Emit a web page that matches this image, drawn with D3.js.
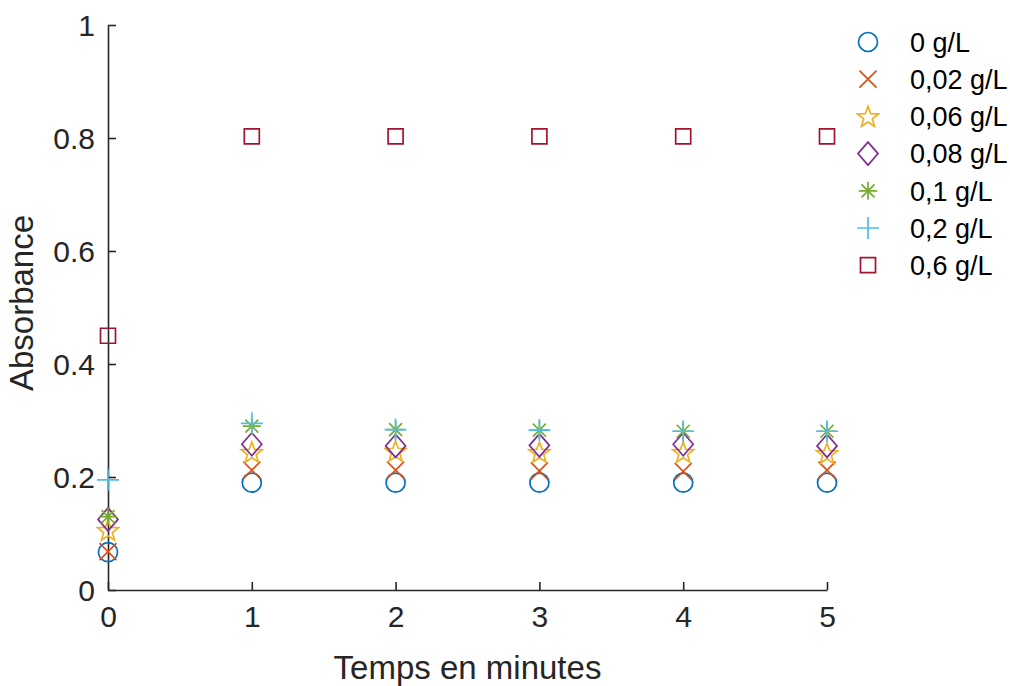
<!DOCTYPE html>
<html><head><meta charset="utf-8">
<script src="https://cdn.jsdelivr.net/npm/d3@7"></script>
<style>body{margin:0;background:#fff}svg{display:block;font-family:"Liberation Sans",Arial,sans-serif}</style>
</head><body>
<svg id="c" width="1010" height="686"></svg>
<script>
const times = [0, 1, 2, 3, 4, 5];
const seriesNames = ["0 g/L", "0,02 g/L", "0,06 g/L", "0,08 g/L", "0,1 g/L", "0,2 g/L", "0,6 g/L"];
const s0   = [0.067, 0.190, 0.190, 0.190, 0.190, 0.190];
const s002 = [0.068, 0.212, 0.212, 0.211, 0.210, 0.212];
const s006 = [0.106, 0.244, 0.246, 0.244, 0.244, 0.242];
const s008 = [0.125, 0.258, 0.255, 0.256, 0.258, 0.255];
const s01  = [0.130, 0.290, 0.284, 0.283, 0.281, 0.281];
const s02  = [0.195, 0.295, 0.284, 0.283, 0.281, 0.281];
const s06  = [0.450, 0.803, 0.803, 0.803, 0.803, 0.803];
const seriesValues = [s0, s002, s006, s008, s01, s02, s06];
const colors = ["#0072BD", "#D95319", "#EDB120", "#7E2F8E", "#77AC30", "#4DBEEE", "#A2142F"];
const markers = ["circle", "x", "star", "diamond", "asterisk", "plus", "square"];
const xTicks = [0, 1, 2, 3, 4, 5];
const yTicks = [0, 0.2, 0.4, 0.6, 0.8, 1];

const svg = d3.select("#c");
const m = {l: 108, r: 827, t: 25, b: 590};
const x = d3.scaleLinear().domain([0, 5]).range([m.l, m.r]);
const y = d3.scaleLinear().domain([0, 1]).range([m.b, m.t]);
const axc = "#262626";

function markerPath(type) {
  const p = d3.path();
  if (type === "circle") { p.moveTo(9.5, 0); p.arc(0, 0, 9.5, 0, 2 * Math.PI); }
  else if (type === "x") { const s = 8.5; p.moveTo(-s, -s); p.lineTo(s, s); p.moveTo(-s, s); p.lineTo(s, -s); }
  else if (type === "plus") { const s = 11; p.moveTo(-s, 0); p.lineTo(s, 0); p.moveTo(0, -s); p.lineTo(0, s); }
  else if (type === "asterisk") { const s = 9, d = 6.5; p.moveTo(-s, 0); p.lineTo(s, 0); p.moveTo(0, -s); p.lineTo(0, s);
    p.moveTo(-d, -d); p.lineTo(d, d); p.moveTo(-d, d); p.lineTo(d, -d); }
  else if (type === "square") { const s = 7.5; p.rect(-s, -s, 2 * s, 2 * s); }
  else if (type === "diamond") { p.moveTo(0, -11.5); p.lineTo(10, 0); p.lineTo(0, 11.5); p.lineTo(-10, 0); p.closePath(); }
  else if (type === "star") {
    const R = 11, r = 4.6;
    for (let i = 0; i < 10; i++) {
      const a = -Math.PI / 2 + i * Math.PI / 5, rr = i % 2 ? r : R;
      const px = rr * Math.cos(a), py = rr * Math.sin(a) + 1;
      if (i === 0) p.moveTo(px, py); else p.lineTo(px, py);
    }
    p.closePath();
  }
  return p.toString();
}

// axes
const xAxis = d3.axisBottom(x).tickValues(xTicks).tickFormat(d3.format("d")).tickSizeInner(-8).tickSizeOuter(0).tickPadding(16);
const yAxis = d3.axisLeft(y).tickValues(yTicks).tickFormat(d => d === 0 || d === 1 ? String(d) : d.toFixed(1)).tickSizeInner(-8).tickSizeOuter(0).tickPadding(13);
const gx = svg.append("g").attr("transform", `translate(0,${m.b})`).call(xAxis);
const gy = svg.append("g").attr("transform", `translate(${m.l},0)`).call(yAxis);
[gx, gy].forEach(g => {
  g.select(".domain").attr("stroke", axc).attr("stroke-width", 1.6);
  g.selectAll(".tick line").attr("stroke", axc).attr("stroke-width", 1.6);
  g.selectAll(".tick text").attr("fill", axc).attr("font-size", 30).attr("font-family", "Liberation Sans, Arial, sans-serif");
});
gy.selectAll(".tick text").attr("dy", "0.36em");

svg.append("text").attr("x", (m.l + m.r) / 2).attr("y", 679).attr("text-anchor", "middle")
  .attr("font-size", 33).attr("fill", axc).text("Temps en minutes");
svg.append("text").attr("transform", `translate(33,303) rotate(-90)`).attr("text-anchor", "middle")
  .attr("font-size", 33).attr("fill", axc).text("Absorbance");

// data
seriesValues.forEach((vals, i) => {
  svg.append("g").selectAll("path").data(vals).join("path")
    .attr("transform", (v, j) => `translate(${x(times[j])},${y(v)})`)
    .attr("d", markerPath(markers[i]))
    .attr("fill", "none").attr("stroke", colors[i]).attr("stroke-width", 1.7);
});

// legend
const lg = svg.append("g");
seriesNames.forEach((name, i) => {
  const cy = 42 + i * 37.2;
  lg.append("path").attr("transform", `translate(868,${cy})`).attr("d", markerPath(markers[i]))
    .attr("fill", "none").attr("stroke", colors[i]).attr("stroke-width", 1.7);
  lg.append("text").attr("x", 910).attr("y", cy).attr("dy", "0.36em").attr("font-size", 27)
    .attr("fill", "#000").text(name);
});
</script>
</body></html>
